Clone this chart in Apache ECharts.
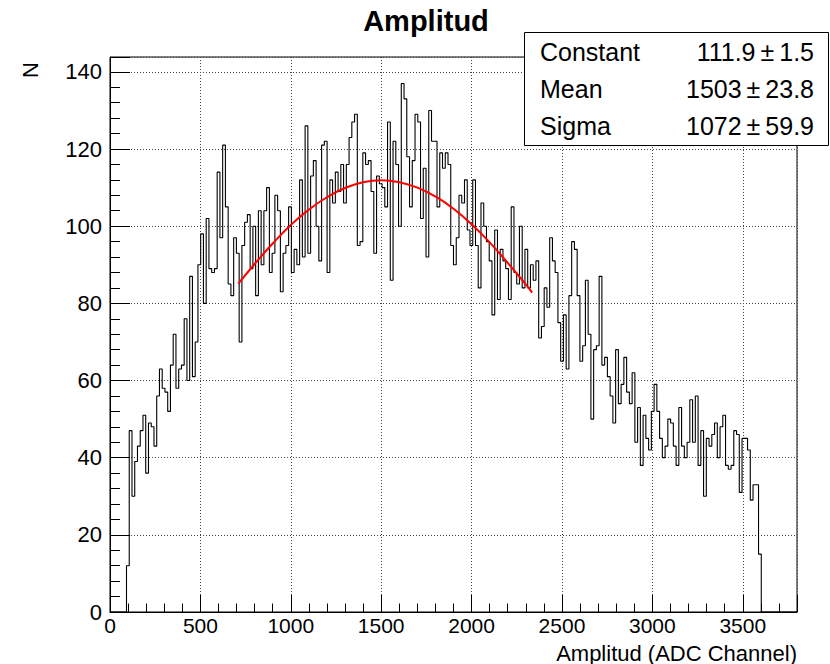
<!DOCTYPE html>
<html><head><meta charset="utf-8">
<script src="https://cdn.jsdelivr.net/npm/echarts@6/dist/echarts.min.js"></script>
<style>html,body{margin:0;padding:0;background:#fff}#c{width:830px;height:664px}</style>
</head><body><div id="c"></div>
<script>
// ---- data ----
const binWidth = 15.2;          // ADC units per bin
const nBins = 250;              // 0 .. 3800
const firstBin = 6;             // index of first non-empty bin
const counts = [
  12, 47, 30, 39, 43, 47, 51, 36, 49, 48, 43, 56, 63, 58, 57, 52,
  64, 72, 58, 63, 64, 76, 60, 87, 61, 70, 90, 98, 80, 102, 89, 88, 89, 114, 97, 121, 105,
  85, 82, 97, 93, 70, 95, 101, 103, 89, 100, 82, 104, 90, 104, 110, 88, 93, 108, 104, 83,
  93, 95, 105, 88, 94, 90, 112, 92, 126, 93, 113, 117, 100, 91, 121, 122, 88, 112, 106,
  114, 109, 116, 106, 116, 123, 127, 129, 95, 96, 119, 116, 117, 109, 93, 113, 111, 110, 105, 127,
  86, 122, 116, 100, 137, 133, 118, 105, 117, 129, 127, 102, 115, 92, 130, 122, 122, 105, 119, 115,
  119, 116, 95, 90, 97, 108, 106, 112, 99, 95, 112, 95, 84, 106, 100, 96, 91, 77, 99, 81,
  94, 91, 89, 81, 105, 88, 85, 100, 84, 94, 84, 90, 86, 91, 71, 74, 84, 79, 97, 91, 88, 75, 65, 77,
  63, 82, 96, 94, 82, 65, 69, 86, 72, 50, 68, 69, 87, 64, 66, 61, 56, 49, 68, 54,
  59, 66, 57, 54, 62, 44, 53, 38, 51, 45, 42, 52, 59, 52, 45, 40, 43, 50, 49, 43, 38, 53,
  43, 40, 44, 55, 44, 56, 38, 47, 30, 45, 43, 46, 49, 40, 48, 51, 38, 37, 38, 47,
  46, 31, 45, 45, 42, 29, 33, 33, 15
];
const fitX = [710, 800, 900, 1000, 1100, 1200, 1300, 1400, 1500, 1600, 1700, 1800, 1900, 2000, 2100, 2200, 2300, 2335];
const fitY = [85.1, 90.2, 95.5, 100.3, 104.3, 107.5, 109.9, 111.4, 111.9, 111.4, 110.0, 107.7, 104.5, 100.5, 95.8, 90.5, 84.9, 82.8];
const statNames = ['Constant', 'Mean', 'Sigma'];
const statValues = ['111.9 \u00b1 1.5', '1503 \u00b1 23.8', '1072 \u00b1 59.9'];
const titleText = 'Amplitud';
const xTitle = 'Amplitud (ADC Channel)';
const yTitle = 'N';
const xMax = 3800;
const yMax = 143.85;

// ---- build ----
const histData = [];
for (let k = 0; k < nBins; k++) {
  const i = k - firstBin;
  const v = (i >= 0 && i < counts.length) ? counts[i] : 0;
  histData.push([k * binWidth, v]);
}
histData.push([nBins * binWidth, 0]);
const fitData = fitX.map((x, i) => [x, fitY[i]]);

const FONT = 'Liberation Sans, Arial, Helvetica, sans-serif';
const chart = echarts.init(document.getElementById('c'), null, {renderer: 'svg'});
const grid = {left: 110, right: 33, top: 57, bottom: 52};

const statGraphics = [{
  type: 'rect', shape: {x: 524.5, y: 32.5, width: 304, height: 113},
  style: {fill: '#fff', stroke: '#000', lineWidth: 1}, z: 100
}];
statNames.forEach((n, i) => {
  statGraphics.push({type: 'text', x: 540, y: 52 + i * 37, z: 101,
    style: {text: n, font: '25px ' + FONT, fill: '#000', textAlign: 'left', textVerticalAlign: 'middle'}});
  statGraphics.push({type: 'text', x: 814, y: 52 + i * 37, z: 101,
    style: {text: statValues[i].replace(' \u00b1 ', '\u2009\u00b1\u2009'), font: '25px ' + FONT, fill: '#000', textAlign: 'right', textVerticalAlign: 'middle'}});
});

chart.setOption({
  animation: false,
  backgroundColor: '#fff',
  grid: Object.assign({show: true, borderColor: '#000', borderWidth: 1, backgroundColor: 'transparent'}, grid),
  xAxis: {
    type: 'value', min: 0, max: xMax, interval: 500,
    axisLine: {show: true, onZero: false, lineStyle: {color: '#000', width: 1}},
    axisTick: {show: true, inside: true, length: 17, lineStyle: {color: '#000'}},
    minorTick: {show: true, splitNumber: 5, length: 8.5, lineStyle: {color: '#000'}},
    splitLine: {show: true, lineStyle: {color: '#444', type: [1, 2], width: 1}},
    axisLabel: {color: '#000', fontSize: 21, fontFamily: FONT, margin: 3,
      formatter: v => (v % 500 === 0 ? String(v) : '')},
  },
  yAxis: {
    type: 'value', min: 0, max: yMax, interval: 20,
    axisLine: {show: true, onZero: false, lineStyle: {color: '#000', width: 1}},
    axisTick: {show: true, inside: true, length: 20, lineStyle: {color: '#000'}},
    minorTick: {show: true, splitNumber: 5, length: 10, lineStyle: {color: '#000'}},
    splitLine: {show: true, lineStyle: {color: '#444', type: [1, 2], width: 1}},
    axisLabel: {color: '#000', fontSize: 22, fontFamily: FONT, margin: 8,
      formatter: v => (Math.abs(v % 20) < 1e-9 ? String(Math.round(v)) : '')},
  },
  series: [
    {type: 'line', data: histData, step: 'end', symbol: 'none',
      lineStyle: {color: '#000', width: 1.1}, z: 3},
    {type: 'line', data: fitData, smooth: true, symbol: 'none',
      lineStyle: {color: '#ff0000', width: 2}, z: 4}
  ],
  graphic: [
    {type: 'text', x: 426, y: 21, style: {text: titleText, font: 'bold 29px ' + FONT, fill: '#000', textAlign: 'center', textVerticalAlign: 'middle'}},
    {type: 'text', x: 30, y: 70, rotation: Math.PI / 2, style: {text: yTitle, font: '22px ' + FONT, fill: '#000', textAlign: 'center', textVerticalAlign: 'middle'}},
    {type: 'text', x: 797, y: 653, style: {text: xTitle, font: '22px ' + FONT, fill: '#000', textAlign: 'right', textVerticalAlign: 'middle'}}
  ].concat(statGraphics)
});
</script></body></html>
